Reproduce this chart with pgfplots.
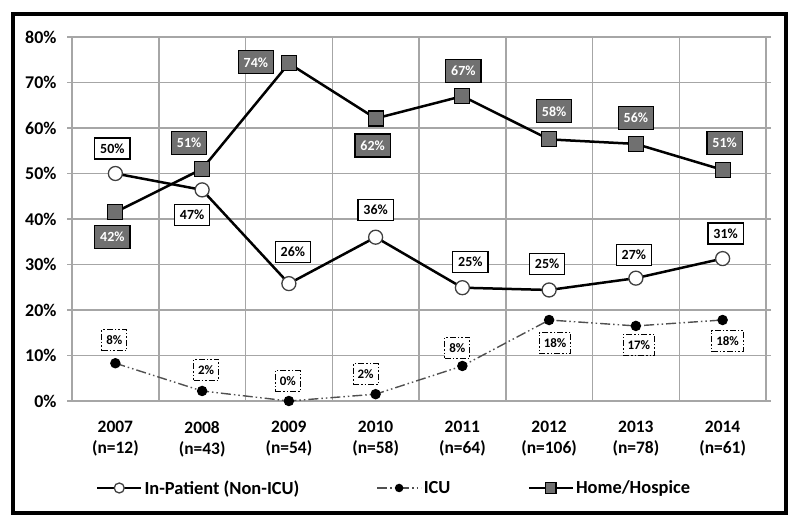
\documentclass[border=0pt]{standalone}
\usepackage{fontspec}
\setmainfont{Carlito}
\usepackage{pgfplots}
\pgfplotsset{compat=1.18}
\usepackage{pgfplotstable}
\definecolor{gridgray}{HTML}{A6A6A6}
\definecolor{homegray}{HTML}{707070}
\definecolor{icugray}{HTML}{505050}

\pgfplotstableread{
x y dx dy lab
0 50.0 -3 25 50
1 46.4 -10 -25 47
2 25.8 4 32 26
3 36.0 0 27 36
4 24.9 8 26 25
5 24.4 -2 26 25
6 27.0 -2 23 27
7 31.3 3 25 31
}\inpat

\pgfplotstableread{
x y dx dy lab
0 8.3 -1 23 8
1 2.2 4 21 2
2 0.0 -1 20 0
3 1.5 -10 20 2
4 7.7 -5 18 8
5 17.8 6 -23 18
6 16.5 3 -19 17
7 17.8 5 -21 18
}\icu

\pgfplotstableread{
x y dx dy lab
0 41.5 -3 -25 42
1 51.0 -13 26 51
2 74.2 -33 1 74
3 62.1 -3 -27 62
4 67.0 1 25 67
5 57.5 5 28 58
6 56.5 0 26 56
7 50.8 2 27 51
}\home

\begin{document}
\begin{tikzpicture}[font=\bfseries]
\path[use as bounding box] (0,0) rectangle (800bp,528bp);
\draw[line width=3.5bp] (13bp,15bp) rectangle (786bp,514bp);
\begin{axis}[
  at={(72bp,127bp)}, anchor=south west,
  scale only axis, width=694bp, height=364bp,
  xmin=-0.5, xmax=7.5, ymin=0, ymax=80,
  clip=false,
  xtick={0,...,7},
  xticklabels={{2007\\(n=12)},{2008\\(n=43)},{2009\\(n=54)},{2010\\(n=58)},{2011\\(n=64)},{2012\\(n=106)},{2013\\(n=78)},{2014\\(n=61)}},
  minor xtick={-0.5,0.5,...,7.5},
  xminorgrids=true, ymajorgrids=true, xmajorgrids=false,
  ytick={0,10,...,80},
  yticklabel={\pgfmathprintnumber{\tick}\%},
  /pgf/number format/assume math mode=true,
  tick align=outside,
  major tick length=5bp, minor tick length=6bp,
  xtick style={draw=none},
  ytick style={gridgray, line width=1.5bp},
  minor tick style={gridgray, line width=1.5bp},
  grid style={gridgray, line width=1.5bp},
  minor grid style={gridgray, line width=1.5bp},
  axis line style={gridgray, line width=1.5bp},
  xticklabel style={align=center, font=\bfseries\fontsize{17.5}{21}\selectfont, yshift=-12bp},
  yticklabel style={font=\bfseries\fontsize{18}{20}\selectfont, xshift=-7bp},
  legend style={at={(0.464,-0.239)}, anchor=center, draw=none, fill=none,
    legend columns=3, font=\bfseries\fontsize{18.5}{21}\selectfont,
    /tikz/every even column/.append style={column sep=75bp}},
  legend image code/.code={\draw[#1] (0bp,0bp)--(44bp,0bp);
    \draw[#1] plot coordinates {(22bp,0bp)};},
  point meta=explicit symbolic,
  nodes near coords={\pgfplotspointmeta\%},
  nodes near coords align=center,
]
\addplot[black, line width=2.5bp, mark=*, mark size=7bp,
  mark options={fill=white, draw=black!75, line width=1.3bp, solid},
  visualization depends on={\thisrow{dx} \as \dx},
  visualization depends on={\thisrow{dy} \as \dy},
  every node near coord/.append style={xshift=\dx bp, yshift=\dy bp, anchor=center,
    draw=black, fill=white, text=black, line width=1.2bp, solid,
    font=\bfseries\fontsize{14}{14}\selectfont, inner xsep=5.5bp,
    minimum height=21bp, text height=9.5bp, text depth=0pt},
  legend image post style={mark size=5bp}]
  table[x=x, y=y, meta=lab] {\inpat};
\addlegendentry{In-Patient (Non-ICU)}

\addplot[icugray, line width=1.4bp, dash pattern=on 10bp off 3bp on 1.5bp off 3bp on 1.5bp off 3bp,
  mark=*, mark size=4.5bp, mark options={fill=black, draw=black, solid},
  visualization depends on={\thisrow{dx} \as \dx},
  visualization depends on={\thisrow{dy} \as \dy},
  every node near coord/.append style={xshift=\dx bp, yshift=\dy bp, anchor=center,
    draw=black, fill=white, text=black, line width=1.1bp,
    dash pattern=on 6bp off 2bp on 1.5bp off 2bp on 1.5bp off 2bp,
    font=\bfseries\fontsize{13}{13}\selectfont, inner xsep=4.5bp,
    minimum height=21bp, text height=9bp, text depth=0pt},
  legend image post style={mark size=3.5bp}]
  table[x=x, y=y, meta=lab] {\icu};
\addlegendentry{ICU}

\addplot[black, line width=2.5bp, mark=square*, mark size=7.5bp,
  mark options={fill=homegray, draw=black, line width=1.2bp, solid},
  visualization depends on={\thisrow{dx} \as \dx},
  visualization depends on={\thisrow{dy} \as \dy},
  every node near coord/.append style={xshift=\dx bp, yshift=\dy bp, anchor=center,
    draw=black, fill=homegray, text=white, line width=1.2bp, solid,
    font=\bfseries\fontsize{14}{14}\selectfont, inner xsep=5.5bp,
    minimum height=23bp, text height=9.5bp, text depth=0pt},
  legend image post style={mark size=5.3bp}]
  table[x=x, y=y, meta=lab] {\home};
\addlegendentry{Home/Hospice}
\end{axis}
\end{tikzpicture}
\end{document}
